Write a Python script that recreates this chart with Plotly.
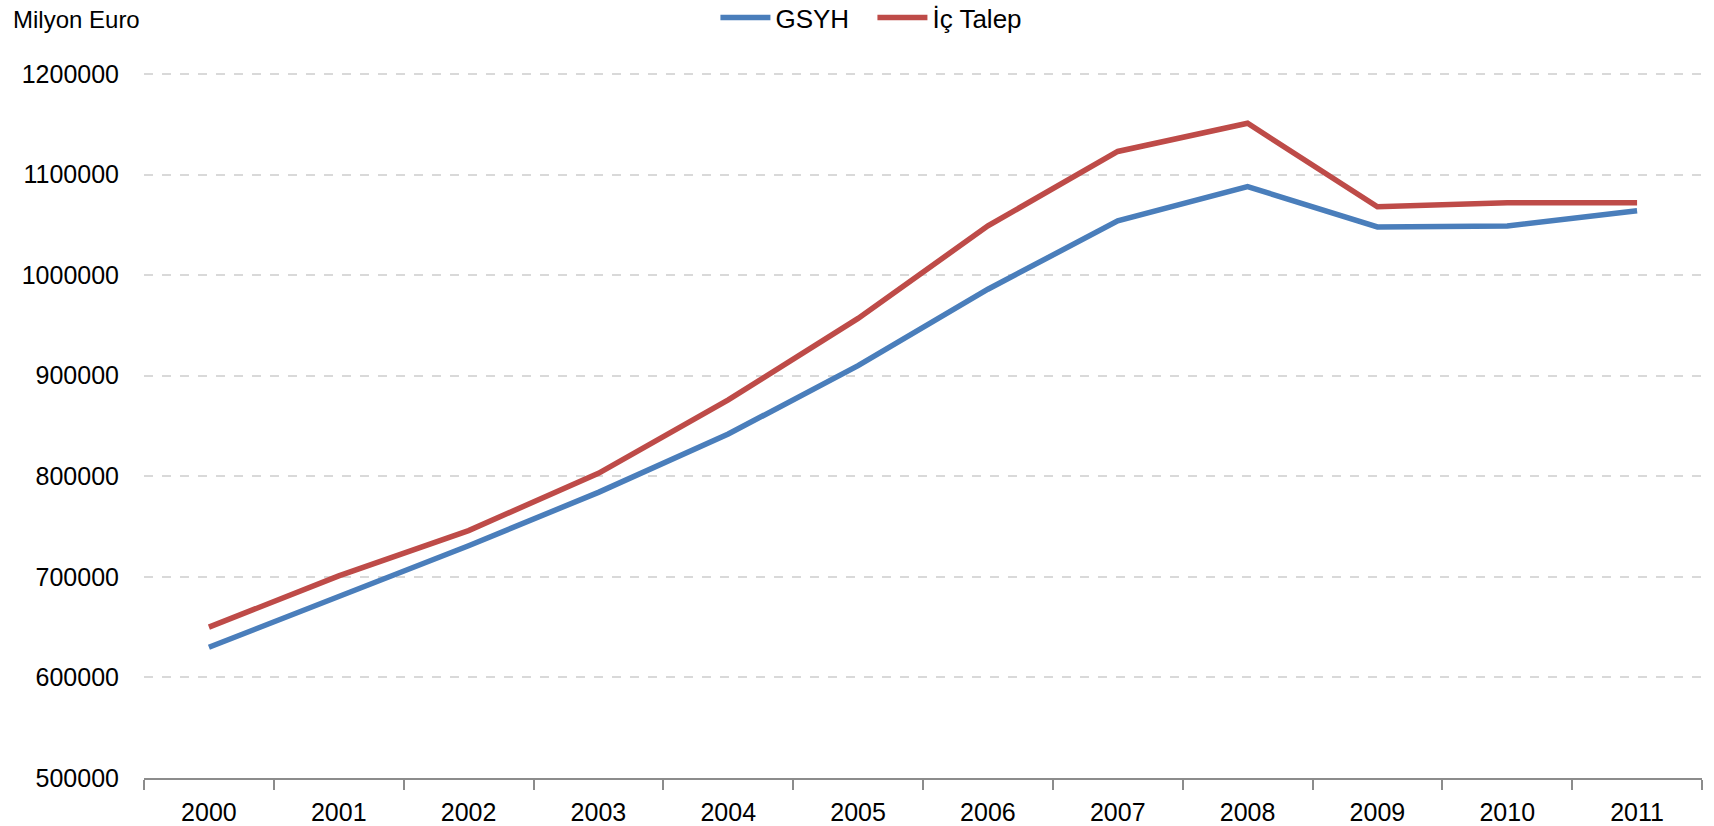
import plotly.graph_objects as go

years = ["2000", "2001", "2002", "2003", "2004", "2005",
         "2006", "2007", "2008", "2009", "2010", "2011"]
gsyh = [630000, 681000, 731000, 784000, 842000, 910000,
        986000, 1054000, 1088000, 1048000, 1049000, 1064000]
ic_talep = [650000, 701000, 746000, 803000, 876000, 957000,
            1049000, 1123000, 1151000, 1068000, 1072000, 1072000]

FONT = "Liberation Sans, Arial, sans-serif"

fig = go.Figure()
fig.add_trace(go.Scatter(x=years, y=gsyh, name="GSYH", mode="lines",
                         line=dict(color="#4a7ebb", width=5.5)))
fig.add_trace(go.Scatter(x=years, y=ic_talep, name="İç Talep", mode="lines",
                         line=dict(color="#be4b48", width=5.5)))

fig.update_layout(
    width=1714, height=826,
    plot_bgcolor="white", paper_bgcolor="white",
    font=dict(family=FONT, size=25, color="black"),
    margin=dict(l=144, r=12, t=71, b=48, autoexpand=False),
    showlegend=True,
    legend=dict(orientation="h", x=0.509, xanchor="center", xref="container",
                y=1.0757, yref="paper", yanchor="middle",
                font=dict(size=26), itemwidth=50, entrywidth=92,
                tracegroupgap=0),
    xaxis=dict(type="category", range=[-0.5, 11.5], showgrid=False,
               showline=True, automargin=False,
               linecolor="#8c8c8c", linewidth=1.5,
               ticks="outside", tickson="boundaries", ticklen=10,
               tickcolor="#8c8c8c", tickwidth=1.5, ticklabelstandoff=11),
    yaxis=dict(range=[500000, 1203000], tick0=500000, dtick=100000,
               tickformat="d", automargin=False,
               showgrid=True, gridcolor="#d9d9d9", griddash="dash",
               gridwidth=1.5, zeroline=False, showline=False,
               ticks="", ticklabelstandoff=24),
)

fig.add_annotation(text="Milyon Euro", xref="paper", yref="paper",
                   x=-0.0854, y=1.0735, xanchor="left", yanchor="middle",
                   showarrow=False, font=dict(size=24))

fig.write_html("out.html", config={"displayModeBar": False},
               post_script="document.body.style.margin='0';")
